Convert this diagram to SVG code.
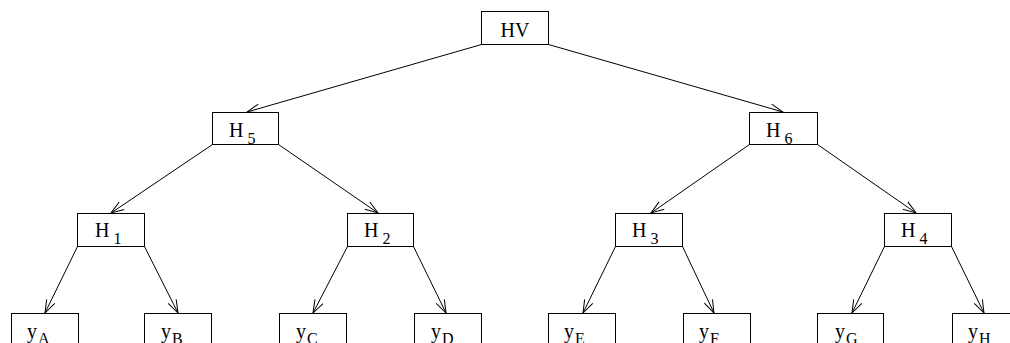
<svg xmlns="http://www.w3.org/2000/svg" width="1010" height="343" viewBox="0 0 1010 343">
<style>
.box{fill:#fff;stroke:#000;stroke-width:1}
.lbl{font-family:"Liberation Serif","Times New Roman",serif;font-size:20px;fill:#000}
.sub{font-size:16px}
.edge{stroke:#000;stroke-width:1;fill:none;marker-end:url(#arr)}
</style>
<defs>
<marker id="arr" markerUnits="userSpaceOnUse" markerWidth="16" markerHeight="12" viewBox="-14 -6 16 12" refX="0" refY="0" orient="auto">
<path d="M-13,-4.5 L0,0 L-13,4.5" fill="none" stroke="#000" stroke-width="1"/>
</marker>
</defs>
<rect width="1010" height="343" fill="#fff"/>
<g id="connectors">
<line class="edge" x1="481.5" y1="44.5" x2="247" y2="112"/>
<line class="edge" x1="548.5" y1="44.5" x2="783" y2="112"/>
<line class="edge" x1="212.5" y1="144.5" x2="111" y2="213"/>
<line class="edge" x1="278.5" y1="144.5" x2="378" y2="213"/>
<line class="edge" x1="749.5" y1="144.5" x2="651" y2="213"/>
<line class="edge" x1="817.5" y1="144.5" x2="916" y2="213"/>
<line class="edge" x1="77.5" y1="246.5" x2="45" y2="313"/>
<line class="edge" x1="144.5" y1="246.5" x2="178" y2="313"/>
<line class="edge" x1="347.5" y1="246.5" x2="313" y2="313"/>
<line class="edge" x1="413.5" y1="246.5" x2="446" y2="313"/>
<line class="edge" x1="615.5" y1="246.5" x2="583" y2="313"/>
<line class="edge" x1="682.5" y1="246.5" x2="714" y2="313"/>
<line class="edge" x1="884.5" y1="246.5" x2="852" y2="313"/>
<line class="edge" x1="951.5" y1="246.5" x2="984" y2="313"/>
</g>
<g id="HV"><rect class="box" x="481.5" y="11.5" width="67" height="33"/><text class="lbl" x="515" y="37" text-anchor="middle">HV</text></g>
<g id="H5"><rect class="box" x="212.5" y="112.5" width="66" height="32"/><text class="lbl" x="229" y="137">H<tspan class="sub" dx="4" dy="7">5</tspan></text></g>
<g id="H6"><rect class="box" x="749.5" y="112.5" width="68" height="32"/><text class="lbl" x="766" y="137">H<tspan class="sub" dx="4" dy="7">6</tspan></text></g>
<g id="H1"><rect class="box" x="77.5" y="213.5" width="67" height="33"/><text class="lbl" x="95" y="237">H<tspan class="sub" dx="4" dy="7">1</tspan></text></g>
<g id="H2"><rect class="box" x="347.5" y="213.5" width="66" height="33"/><text class="lbl" x="364" y="237">H<tspan class="sub" dx="4" dy="7">2</tspan></text></g>
<g id="H3"><rect class="box" x="615.5" y="213.5" width="67" height="33"/><text class="lbl" x="632" y="237">H<tspan class="sub" dx="4" dy="7">3</tspan></text></g>
<g id="H4"><rect class="box" x="884.5" y="213.5" width="67" height="33"/><text class="lbl" x="901" y="237">H<tspan class="sub" dx="4" dy="7">4</tspan></text></g>
<g id="yA"><rect class="box" x="11.5" y="313.5" width="67" height="40"/><text class="lbl" x="27" y="338">y<tspan class="sub" dx="1" dy="6">A</tspan></text></g>
<g id="yB"><rect class="box" x="144.5" y="313.5" width="67" height="40"/><text class="lbl" x="161" y="338">y<tspan class="sub" dx="1" dy="6">B</tspan></text></g>
<g id="yC"><rect class="box" x="279.5" y="313.5" width="67" height="40"/><text class="lbl" x="296" y="338">y<tspan class="sub" dx="1" dy="6">C</tspan></text></g>
<g id="yD"><rect class="box" x="414.5" y="313.5" width="67" height="40"/><text class="lbl" x="431" y="338">y<tspan class="sub" dx="1" dy="6">D</tspan></text></g>
<g id="yE"><rect class="box" x="548.5" y="313.5" width="67" height="40"/><text class="lbl" x="564" y="338">y<tspan class="sub" dx="1" dy="6">E</tspan></text></g>
<g id="yF"><rect class="box" x="683.5" y="313.5" width="67" height="40"/><text class="lbl" x="699" y="338">y<tspan class="sub" dx="1" dy="6">F</tspan></text></g>
<g id="yG"><rect class="box" x="817.5" y="313.5" width="66" height="40"/><text class="lbl" x="835" y="338">y<tspan class="sub" dx="1" dy="6">G</tspan></text></g>
<g id="yH"><rect class="box" x="952.5" y="313.5" width="67" height="40"/><text class="lbl" x="968" y="338">y<tspan class="sub" dx="1" dy="6">H</tspan></text></g>
</svg>
